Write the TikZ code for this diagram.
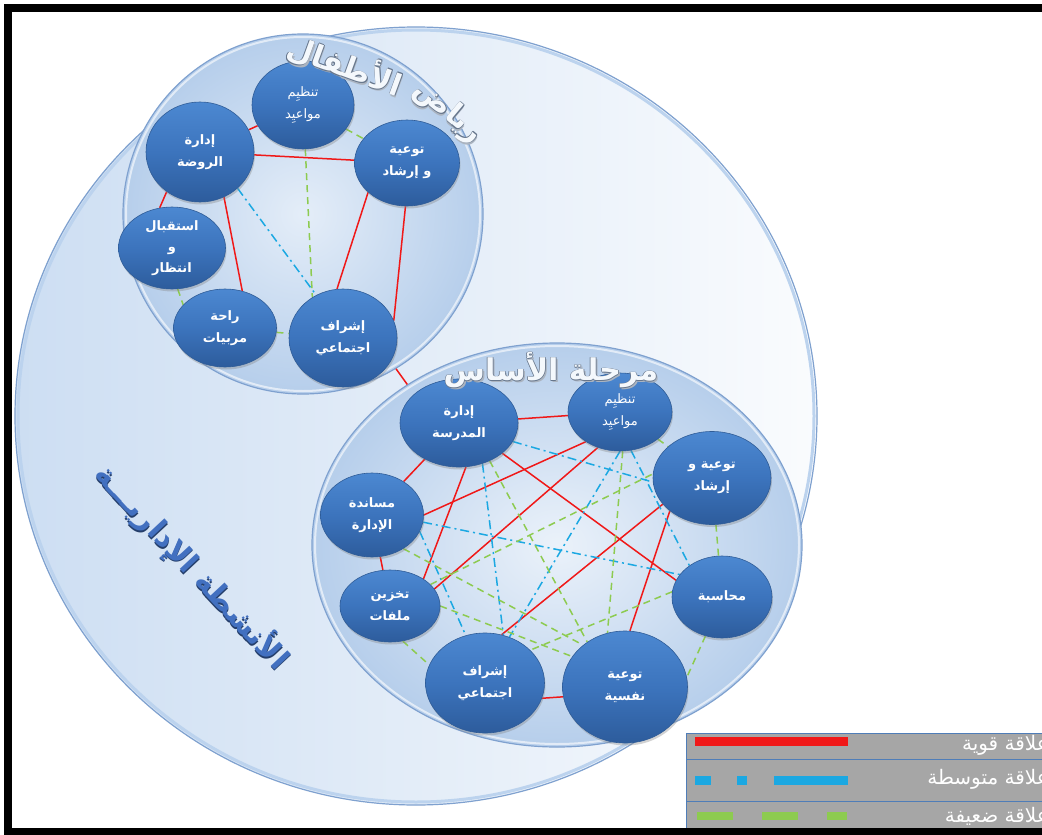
\documentclass[tikz,border=0pt]{standalone}
\usepackage{fontspec}
\usetikzlibrary{shapes.geometric,shadows}
\TeXXeTstate=1
\newfontfamily\arabicfont[Script=Arabic]{DejaVu Sans}
\newcommand\ar[1]{\beginR#1\endR}

\definecolor{nodeTop}{HTML}{4C88D1}
\definecolor{nodeMid}{HTML}{3C74BD}
\definecolor{nodeBot}{HTML}{2D5C9C}
\definecolor{nodeEdge}{HTML}{2F5C97}
\definecolor{relStrong}{HTML}{F01818}
\definecolor{relMid}{HTML}{1BA8E2}
\definecolor{relWeak}{HTML}{8DCB50}
\definecolor{rimDark}{HTML}{7FA1CF}
\definecolor{rimLight}{HTML}{BCD3EE}
\definecolor{legGray}{HTML}{A6A6A6}
\definecolor{legLine}{HTML}{4F7DB8}
\definecolor{sideInk}{HTML}{4270C0}
\definecolor{outlineInk}{HTML}{66768C}
\definecolor{titleFill}{HTML}{F4F8FC}

% outlined title lettering: grey copies around a light fill
\newcommand\olt[1]{%
  \rlap{\textcolor{outlineInk!55}{\kern1.8pt\lower1.8pt\hbox{#1}}}%
  \rlap{\textcolor{outlineInk}{\kern-0.7pt\hbox{#1}}}%
  \rlap{\textcolor{outlineInk}{\kern0.7pt\hbox{#1}}}%
  \rlap{\textcolor{outlineInk}{\raise0.7pt\hbox{#1}}}%
  \rlap{\textcolor{outlineInk}{\lower0.7pt\hbox{#1}}}%
  \hbox{\textcolor{titleFill}{#1}}}
% embossed lettering for the side caption
\newcommand\emb[1]{%
  \rlap{\textcolor{sideInk!55!black}{\kern1.2pt\lower1.2pt\hbox{#1}}}%
  \hbox{\textcolor{sideInk}{#1}}}

\pgfdeclarelayer{back}
\pgfdeclarelayer{links}
\pgfsetlayers{back,links,main}

\begin{document}
\begin{tikzpicture}[x=1pt,y=-1pt,
  knode/.style={ellipse, inner sep=0pt, draw=nodeEdge, line width=0.6pt,
    top color=nodeTop, bottom color=nodeBot, middle color=nodeMid,
    drop shadow={shadow xshift=1pt, shadow yshift=-2.5pt, opacity=0.35},
    text=white, align=center,
    font=\arabicfont\bfseries\fontsize{13}{22}\selectfont},
  thinlabel/.style={font=\arabicfont\fontsize{13}{22}\selectfont},
  region/.style={ellipse, inner sep=0pt, draw=rimDark, line width=1.2pt},
  strongrel/.style={draw=relStrong, line width=1.5pt},
  midrel/.style={draw=relMid, line width=1.5pt, dash pattern=on 9pt off 4pt on 2pt off 4pt},
  weakrel/.style={draw=relWeak, line width=1.5pt, dash pattern=on 7pt off 5pt},
  titlefont/.style={inner sep=0pt, font=\arabicfont\bfseries\fontsize{30}{30}\selectfont},
  legtext/.style={anchor=east, inner sep=0pt, text=white, font=\arabicfont\fontsize{20}{20}\selectfont}]
\useasboundingbox (0,0) rectangle (1042,835);

% ---- regions -------------------------------------------------------
\begin{pgfonlayer}{back}
  \fill[white] (0,0) rectangle (1042,835);
  \node[region, minimum width=802, minimum height=778,
        left color=rimLight!75, right color=white!92!rimLight] (allAct) at (416,416) {};
  \draw[rimLight, line width=3pt] (416,416) ellipse [x radius=398, y radius=386];
  \node[region, minimum width=490, minimum height=404,
        inner color=white!70!rimLight, outer color=rimLight!90!rimDark] (bs) at (557,545) {};
  \draw[white, opacity=0.6, line width=2pt] (557,545) ellipse [x radius=242, y radius=199];
  \node[region, circle, minimum size=360,
        inner color=white!60!rimLight, outer color=rimLight!90!rimDark] (kg) at (303,214) {};
  \draw[white, opacity=0.6, line width=2pt] (303,214) circle [radius=177];
\end{pgfonlayer}

% ---- kindergarten units -------------------------------------------
\node[knode, thinlabel, minimum width=102, minimum height=88] (k1) at (303,105) {\ar{تنظيِم}\\\ar{مواعيِد}};
\node[knode, minimum width=108, minimum height=100] (k2) at (200,152) {\ar{إدارة}\\\ar{الروضة}};
\node[knode, minimum width=105, minimum height=86] (k3) at (407,163) {\ar{توعية}\\\ar{و إرشاد}};
\node[knode, minimum width=107, minimum height=82, font=\arabicfont\bfseries\fontsize{13}{21}\selectfont] (k4) at (172,248) {\ar{استقبال}\\\ar{و}\\\ar{انتظار}};
\node[knode, minimum width=103, minimum height=78] (k5) at (225,328) {\ar{راحة}\\\ar{مربيات}};
\node[knode, minimum width=108, minimum height=98] (k6) at (343,338) {\ar{إشراف}\\\ar{اجتماعي}};

% ---- basic school units --------------------------------------------
\node[knode, minimum width=118, minimum height=88] (A) at (459,423) {\ar{إدارة}\\\ar{المدرسة}};
\node[knode, thinlabel, minimum width=104, minimum height=78] (B) at (620,412) {\ar{تنظيِم}\\\ar{مواعيِد}};
\node[knode, minimum width=118, minimum height=93] (C) at (712,478) {\ar{توعية و}\\\ar{إرشاد}};
\node[knode, minimum width=103, minimum height=84] (D) at (372,515) {\ar{مساندة}\\\ar{الإدارة}};
\node[knode, minimum width=100, minimum height=82] (E) at (722,597) {\ar{محاسبة}};
\node[knode, minimum width=100, minimum height=72] (F) at (390,606) {\ar{تخزين}\\\ar{ملفات}};
\node[knode, minimum width=119, minimum height=100] (G) at (485,683) {\ar{إشراف}\\\ar{اجتماعي}};
\node[knode, minimum width=125, minimum height=112] (H) at (625,687) {\ar{توعية}\\\ar{نفسية}};

% ---- relations -------------------------------------------------------
\begin{pgfonlayer}{links}
  % kindergarten
  \draw[strongrel] (k2) -- (k1);
  \draw[weakrel] (k1) -- (k3);
  \draw[strongrel] (k2) -- (k3);
  \draw[weakrel] (k1.273) -- (k6.127);
  \draw[midrel] (k2.316) -- (k6.122);
  \draw[strongrel] (k2.298) -- (k5.65);
  \draw[strongrel] (k2.230) -- (k4.107);
  \draw[strongrel] (k3.217) -- (k6.97);
  \draw[strongrel] (k3.268) -- (k6.19);
  \draw[weakrel] (k4.278) -- (k5.151);
  \draw[weakrel] (k5) -- (k6);
  \draw[strongrel] (kg.-59) -- (bs.133);
  % basic school: strong
  \draw[strongrel] (A) -- (B);
  \draw[strongrel] (A) -- (D);
  \draw[strongrel] (D) -- (F);
  \draw[strongrel] (G.-15) -- (H.189);
  \draw[strongrel] (D.0) -- (B.221);
  \draw[strongrel] (A.279) -- (F.39);
  \draw[strongrel] (F.21) -- (B.238);
  \draw[strongrel] (A.-35) -- (E.160);
  \draw[strongrel] (G.71) -- (C.208);
  \draw[strongrel] (H.85) -- (C.218);
  % basic school: medium
  \draw[midrel] (A.-19) -- (C.184);
  \draw[midrel] (A.-60) -- (G.69);
  \draw[midrel] (B.270) -- (G.62);
  \draw[midrel] (B.286) -- (E.136);
  \draw[midrel] (D.-8) -- (E.152);
  \draw[midrel] (D.-19) -- (G.112);
  % basic school: weak
  \draw[weakrel] (B) -- (C);
  \draw[weakrel] (C) -- (E);
  \draw[weakrel] (E.247) -- (H.9);
  \draw[weakrel] (F.290) -- (G.162);
  \draw[weakrel] (D.-47) -- (H.135);
  \draw[weakrel] (F.0) -- (H.150);
  \draw[weakrel] (F.28) -- (C.176);
  \draw[weakrel] (A.-51) -- (H.130);
  \draw[weakrel] (B.274) -- (H.108);
  \draw[weakrel] (E.174) -- (G.36);
\end{pgfonlayer}

% ---- captions ----------------------------------------------------------
\node[titlefont, rotate=-20] (kgTitleB) at (345,66) {\olt{\ar{الأطفال}}};
\node[titlefont, rotate=-40] (kgTitleA) at (448,112) {\olt{\ar{رياض}}};
\node[titlefont] (bsTitle) at (551,371) {\olt{\ar{مرحلة الأساس}}};
\node[titlefont, rotate=-47] (sideTitle) at (192,567) {\emb{\ar{الأنشطة الإداريـــة}}};

% ---- legend --------------------------------------------------------------
\fill[legGray] (686,733) rectangle (1042,828);
\draw[legLine, line width=0.8pt] (686,828) -- (686,733) -- (1042,733);
\draw[legLine, line width=0.8pt] (686,759) -- (1042,759);
\draw[legLine, line width=0.8pt] (686,801) -- (1042,801);
\draw[relStrong, line width=9pt] (695,741.5) -- (848,741.5);
\draw[relMid, line width=9pt, dash pattern=on 16pt off 26pt on 10pt off 27pt on 74pt off 60pt] (695,780.5) -- (848,780.5);
\draw[relWeak, line width=8pt, dash pattern=on 36pt off 29pt on 36pt off 29pt on 20pt off 60pt] (697,816) -- (847,816);
\node[legtext] (legStrong) at (1049,745) {\ar{علاقة قوية}};
\node[legtext] (legMid) at (1049,779) {\ar{علاقة متوسطة}};
\node[legtext] (legWeak) at (1049,816) {\ar{علاقة ضعيفة}};

% ---- frame ------------------------------------------------------------------
\fill[black] (4,4) rectangle (1042,12);
\fill[black] (4,4) rectangle (12,835);
\fill[black] (4,828) rectangle (1042,835);
\end{tikzpicture}
\end{document}
